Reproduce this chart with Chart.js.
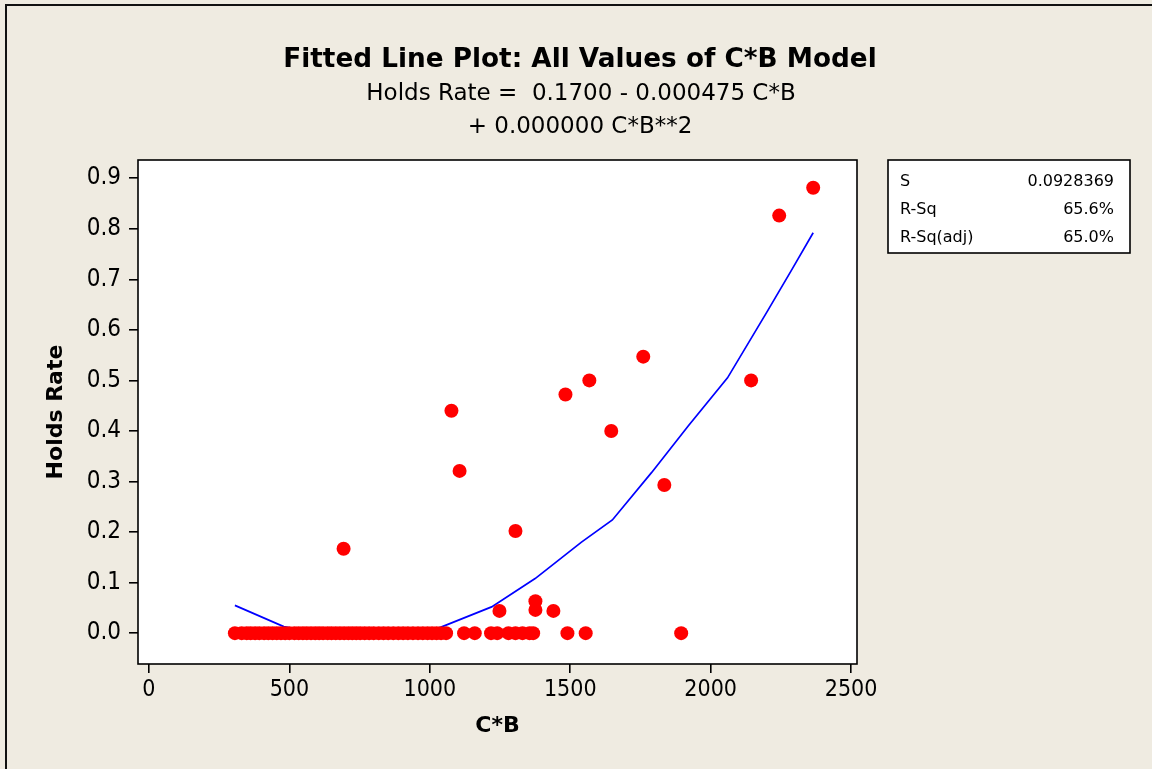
<!DOCTYPE html>
<html>
<head>
<meta charset="utf-8">
<script src="https://cdn.jsdelivr.net/npm/chart.js@4"></script>
<style>
html,body{margin:0;padding:0;background:#efebe1;}
#wrap{width:1152px;height:769px;position:relative;}
canvas{display:block;}
</style>
</head>
<body>
<div id="wrap"><canvas id="c" width="1152" height="769"></canvas></div>
<script>
// ---- data ----
const cbValues = [
  306, 330, 348, 362, 378, 393, 410, 425, 440, 455, 470, 485, 500, 518, 533, 548,
  562, 577, 592, 606, 620, 636, 650, 665, 680, 695, 710, 724, 738, 752, 768, 784,
  800, 818, 835, 852, 870, 888, 905, 922, 940, 958, 975, 992, 1008, 1024, 1040, 1058,
  1122, 1160, 1218, 1240, 1280, 1305, 1330, 1355, 1368, 1490, 1555, 1895,
  693, 1077, 1106, 1248, 1305, 1376, 1376, 1440, 1483, 1568, 1646, 1760, 1835, 2144, 2244, 2365
];
const holdsRate = [
  0,0,0,0,0,0,0,0,0,0,0,0,0,0,0,0,
  0,0,0,0,0,0,0,0,0,0,0,0,0,0,0,0,
  0,0,0,0,0,0,0,0,0,0,0,0,0,0,0,0,
  0,0,0,0,0,0,0,0,0,0,0,0,
  0.167, 0.440, 0.321, 0.044, 0.202, 0.063, 0.046, 0.044, 0.472, 0.500, 0.400, 0.547, 0.293, 0.500, 0.826, 0.881
];
const fitX = [306, 480, 650, 800, 950, 1040, 1220, 1375, 1540, 1650, 1790, 1920, 2060, 2200, 2290, 2365];
const fitY = [0.055, 0.013, -0.006, -0.009, -0.004, 0.012, 0.052, 0.108, 0.180, 0.224, 0.318, 0.41, 0.505, 0.635, 0.72, 0.792];
const xTicks = [0, 500, 1000, 1500, 2000, 2500];
const yTicks = [0, 0.1, 0.2, 0.3, 0.4, 0.5, 0.6, 0.7, 0.8, 0.9];
const titleText = "Fitted Line Plot: All Values of C*B Model";
const subtitleLines = ["Holds Rate =  0.1700 - 0.000475 C*B", "+ 0.000000 C*B**2"];
const statLabels = ["S", "R-Sq", "R-Sq(adj)"];
const statValues = ["0.0928369", "65.6%", "65.0%"];
const xLabel = "C*B";
const yLabel = "Holds Rate";

const FONT = "'DejaVu Sans', sans-serif";
const TICKFONT = "'DejaVu Sans Condensed', 'DejaVu Sans', sans-serif";

const points = cbValues.map((x, i) => ({x: x, y: holdsRate[i]}));
const fitLine = fitX.map((x, i) => ({x: x, y: fitY[i]}));

const decor = {
  id: 'decor',
  beforeDraw(chart) {
    const ctx = chart.ctx, a = chart.chartArea;
    ctx.save();
    ctx.fillStyle = '#efebe1';
    ctx.fillRect(0, 0, chart.width, chart.height);
    ctx.strokeStyle = '#111';
    ctx.lineWidth = 2;
    ctx.strokeRect(6, 5, 1300, 900);
    ctx.fillStyle = '#ffffff';
    ctx.fillRect(a.left, a.top, a.right - a.left, a.bottom - a.top);
    ctx.restore();
  },
  afterDatasetsDraw(chart) {
    const ctx = chart.ctx, a = chart.chartArea;
    ctx.save();
    ctx.strokeStyle = '#000';
    ctx.lineWidth = 1.6;
    ctx.strokeRect(a.left, a.top, a.right - a.left, a.bottom - a.top);
    // titles
    ctx.fillStyle = '#000';
    ctx.textAlign = 'center';
    ctx.textBaseline = 'middle';
    ctx.font = "bold 26.3px " + FONT;
    ctx.fillText(titleText, 580, 60);
    ctx.font = "23px " + FONT;
    ctx.fillText(subtitleLines[0], 581, 94);
    ctx.fillText(subtitleLines[1], 580, 127);
    // stats box
    const bx = 888, by = 160, bw = 242, bh = 93;
    ctx.fillStyle = '#fff';
    ctx.fillRect(bx, by, bw, bh);
    ctx.lineWidth = 1.6;
    ctx.strokeRect(bx, by, bw, bh);
    ctx.fillStyle = '#000';
    ctx.font = "16px " + FONT;
    for (let i = 0; i < statLabels.length; i++) {
      const yy = 182 + i * 28;
      ctx.textAlign = 'left';
      ctx.fillText(statLabels[i], 900, yy);
      ctx.textAlign = 'right';
      ctx.fillText(statValues[i], 1114, yy);
    }
    ctx.restore();
  }
};

new Chart(document.getElementById('c'), {
  type: 'scatter',
  data: {
    datasets: [
      {
        type: 'line',
        label: 'Fit',
        data: fitLine,
        borderColor: '#0000ff',
        borderWidth: 1.7,
        pointRadius: 0,
        fill: false,
        tension: 0,
        order: 2
      },
      {
        label: 'Holds Rate',
        data: points,
        backgroundColor: '#ff0000',
        borderColor: '#ff0000',
        borderWidth: 0,
        pointRadius: 7,
        pointHoverRadius: 7,
        order: 1
      }
    ]
  },
  options: {
    responsive: false,
    animation: false,
    devicePixelRatio: 1,
    layout: {padding: {left: 0, right: 295, top: 160, bottom: 0}},
    plugins: {legend: {display: false}, tooltip: {enabled: false}, title: {display: false}},
    scales: {
      x: {
        type: 'linear',
        min: -39, max: 2521,
        afterBuildTicks: s => { s.ticks = xTicks.map(v => ({value: v})); },
        afterFit: s => { s.height = 105; },
        grid: {drawOnChartArea: false, drawTicks: true, tickLength: 9, color: '#000', lineWidth: 1.6},
        border: {display: false},
        ticks: {color: '#000', font: {family: TICKFONT, size: 23}, padding: 3, maxRotation: 0,
                callback: v => String(v)},
        title: {display: true, text: xLabel, color: '#000', font: {family: FONT, size: 22, weight: 'bold'},
                padding: {top: 30, bottom: 30}}
      },
      y: {
        type: 'linear',
        min: -0.061, max: 0.936,
        afterBuildTicks: s => { s.ticks = yTicks.map(v => ({value: v})); },
        afterFit: s => { s.width = 138; },
        grid: {drawOnChartArea: false, drawTicks: true, tickLength: 9, color: '#000', lineWidth: 1.6},
        border: {display: false},
        ticks: {color: '#000', font: {family: TICKFONT, size: 24}, padding: 8,
                callback: v => Number(v).toFixed(1)},
        title: {display: true, text: yLabel, color: '#000', font: {family: FONT, size: 22, weight: 'bold'},
                padding: {top: 43, bottom: 43}}
      }
    }
  },
  plugins: [decor]
});
</script>
</body>
</html>
